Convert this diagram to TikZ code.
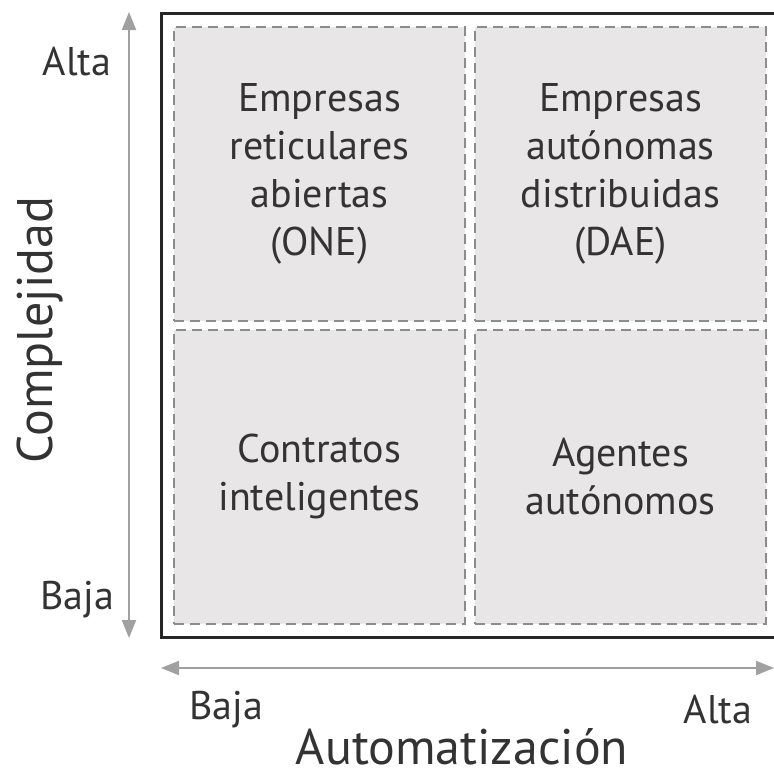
\documentclass[tikz,border=0pt]{standalone}
\usepackage{fontspec}
\setmainfont{PT Sans}
\usetikzlibrary{arrows.meta, positioning}
\definecolor{cellgray}{HTML}{E8E6E7}
\definecolor{dashgray}{HTML}{8C8C8C}
\definecolor{axisgray}{HTML}{A0A0A0}
\definecolor{textdark}{HTML}{333333}
\tikzset{
  cell/.style={
    rectangle, draw=dashgray, dash pattern=on 5pt off 3pt, line width=1pt,
    fill=cellgray, minimum width=145.5pt, minimum height=147pt, inner sep=0pt,
    align=center, text=textdark, font=\fontsize{20}{24}\selectfont
  },
  frame/.style={draw=black!85, line width=1.5pt},
  axisarrow/.style={{Triangle[length=9pt,width=7pt]}-{Triangle[length=9pt,width=7pt]},
    draw=axisgray, line width=1pt},
  ticklabel/.style={text=textdark, font=\fontsize{20}{24}\selectfont},
  axislabel/.style={text=textdark, font=\fontsize{25}{30}\selectfont}
}
\begin{document}
\begin{tikzpicture}[x=0.5pt, y=-0.5pt]
\useasboundingbox (0,0) rectangle (774,778);

% outer frame
\draw[frame] (161,13) rectangle (777,637);

% quadrants
\node[cell] (one) at (319.5,174) {Empresas\\reticulares\\abiertas\\(ONE)};
\node[cell] (dae) at (620.5,174) {Empresas\\autónomas\\distribuidas\\(DAE)};
\node[cell] (smart) at (319.5,476.5) {Contratos\\inteligentes};
\node[cell] (agents) at (620.5,476.5) {Agentes\\autónomos};

% axes
\coordinate (ytop) at (129,12);
\coordinate (ybot) at (129,638);
\coordinate (xleft) at (161,668);
\coordinate (xright) at (774,668);
\draw[axisarrow] (ytop) -- (ybot);
\draw[axisarrow] (xleft) -- (xright);

\node[ticklabel] (yhigh) at (77,62) {Alta};
\node[ticklabel] (ylow) at (77,600) {Baja};
\node[ticklabel] (xlow) at (226,710) {Baja};
\node[ticklabel] (xhigh) at (718,710) {Alta};
\node[axislabel] (xname) at (462,747) {Automatización};
\node[axislabel, rotate=90] (yname) at (40,330) {Complejidad};

\end{tikzpicture}
\end{document}
